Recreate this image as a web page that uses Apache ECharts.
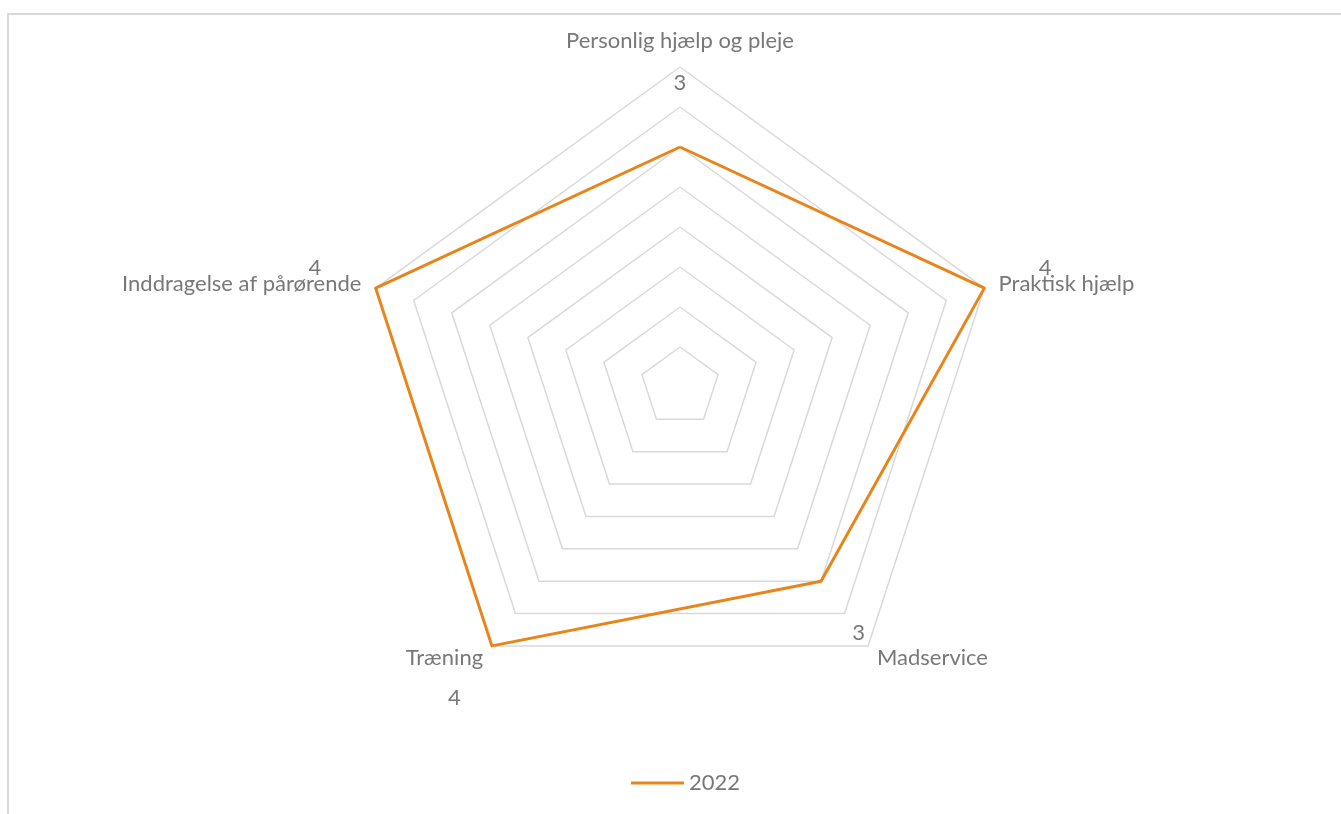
<!DOCTYPE html>
<html lang="da">
<head>
    <meta charset="UTF-8">
    <title>Radar 2022</title>
    <script src="https://cdn.jsdelivr.net/npm/echarts@6/dist/echarts.min.js"></script>
    <style>
        body{
            margin: 0;
            background: #ffffff;
        }
        #frame{
            position: absolute;
            left: 7px;
            top: 13px;
            width: 1400px;
            height: 900px;
            border-top: 2px solid #d9d9d9;
            border-left: 2px solid #d9d9d9;
        }
        #chart{
            position: absolute;
            left: 0;
            top: 0;
            width: 1341px;
            height: 814px;
        }
    </style>
</head>
<body>
<div id="frame"></div>
<div id="chart"></div>
<script>
    var categories = ['Personlig hjælp og pleje', 'Praktisk hjælp', 'Madservice', 'Træning', 'Inddragelse af pårørende'];
    var values2022 = [3, 4, 3, 4, 4];
    var seriesName = '2022';
    var axisMax = 4;
    var labelGap = 0.8; // data labels sit a bit outside the points (like Excel)

    var grey = '#787878';
    var orange = '#e8841a';
    var fontSize = 22;

    // echarts radar goes counter-clockwise, Excel goes clockwise -> reverse order after the first
    var order = [0].concat(categories.slice(1).map(function (c, i) { return categories.length - 1 - i; }));
    function reorder(arr) { return order.map(function (i) { return arr[i]; }); }

    var myChart = echarts.init(document.getElementById('chart'));
    var option = {
        animation: false,
        textStyle: { fontFamily: 'Lato, "Open Sans", sans-serif' },
        legend: {
            data: [seriesName],
            left: 631,
            top: 772,
            padding: 0,
            icon: 'rect',
            itemWidth: 53,
            itemHeight: 3,
            textStyle: { color: grey, fontSize: fontSize }
        },
        radar: {
            center: [680, 387],
            radius: 320,
            startAngle: 90,
            splitNumber: 8,
            indicator: reorder(categories).map(function (c) { return { name: c, min: 0, max: axisMax }; }),
            axisName: { color: grey, fontSize: fontSize },
            nameGap: 15,
            axisLine: { show: false },
            axisTick: { show: false },
            splitArea: { show: false },
            splitLine: { lineStyle: { color: '#d9d9d9', width: 1.5 } }
        },
        series: [
            {
                name: seriesName,
                type: 'radar',
                symbol: 'none',
                lineStyle: { color: orange, width: 3 },
                itemStyle: { color: orange },
                data: [{ value: reorder(values2022), name: seriesName }]
            },
            {
                name: 'labels',
                type: 'radar',
                symbol: 'circle',
                symbolSize: 2,
                silent: true,
                lineStyle: { width: 0, color: 'rgba(0,0,0,0)' },
                itemStyle: { color: 'rgba(0,0,0,0)' },
                label: {
                    show: true,
                    position: 'inside',
                    color: grey,
                    fontSize: fontSize,
                    formatter: function (p) {
                        var v = Array.isArray(p.value) ? p.value[0] : p.value;
                        return String(Math.round((v - labelGap) * 10) / 10);
                    }
                },
                data: [{ value: reorder(values2022).map(function (v) { return v + labelGap; }), name: 'labels' }]
            }
        ]
    };
    myChart.setOption(option);
</script>
</body>
</html>
